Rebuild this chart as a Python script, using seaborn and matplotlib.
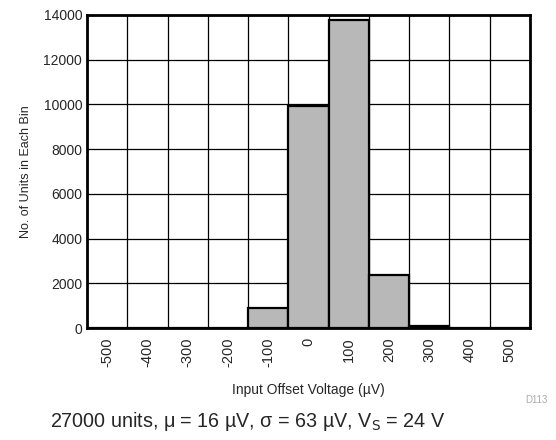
import numpy as np
import pandas as pd
import matplotlib
matplotlib.use('Agg')
import matplotlib.pyplot as plt
import seaborn as sns

# Données de l'histogramme
bins = ['-500', '-400', '-300', '-200', '-100', '0', '100', '200', '300', '400', '500']
counts = [10, 5, 5, 20, 900, 9950, 13780, 2350, 70, 5, 5]
y_ticks = [0, 2000, 4000, 6000, 8000, 10000, 12000, 14000]

sns.set_style('white')
plt.rcParams['font.family'] = ['Liberation Sans', 'DejaVu Sans']

df = pd.DataFrame({'bin': bins, 'count': counts})

fig = plt.figure(figsize=(5.56, 4.40), dpi=100)
ax = fig.add_axes([87 / 556, 1 - 328 / 440, 443 / 556, 313 / 440])

sns.barplot(data=df, x='bin', y='count', color='#b8b8b8', width=1.0,
            edgecolor='black', linewidth=1.6, saturation=1, ax=ax, zorder=3)

ax.set_xlim(-0.5, len(bins) - 0.5)
ax.set_ylim(0, 14000)
ax.set_yticks(y_ticks)
ax.set_yticklabels([str(v) for v in y_ticks], fontsize=10)

# Grille : lignes verticales aux limites des classes
ax.set_xticks(np.arange(len(bins) + 1) - 0.5, minor=True)
ax.grid(which='minor', axis='x', color='black', linewidth=0.9, zorder=1)
ax.grid(which='major', axis='y', color='black', linewidth=0.9, zorder=1)
ax.set_axisbelow(True)
ax.tick_params(axis='both', which='both', length=0)
ax.tick_params(axis='x', pad=7)
plt.setp(ax.get_xticklabels(), rotation=90, fontsize=10.5)

for s in ax.spines.values():
    s.set_linewidth(2)
    s.set_color('black')

ax.set_xlabel('Input Offset Voltage (\u00b5V)', fontsize=10, labelpad=11)
ax.set_ylabel('No. of Units in Each Bin', fontsize=9, labelpad=8)

fig.text(0.945, 1 - 400 / 440, 'D113', fontsize=7, color='#aaaaaa',
         ha='left', va='center')
fig.text(50 / 556, 1 - 421 / 440, '27000 units, \u03bc = 16 \u00b5V, \u03c3 = 63 \u00b5V, V$_\\mathrm{S}$ = 24 V',
         fontsize=14.2, ha='left', va='center')

fig.savefig('out.png', dpi=100)
